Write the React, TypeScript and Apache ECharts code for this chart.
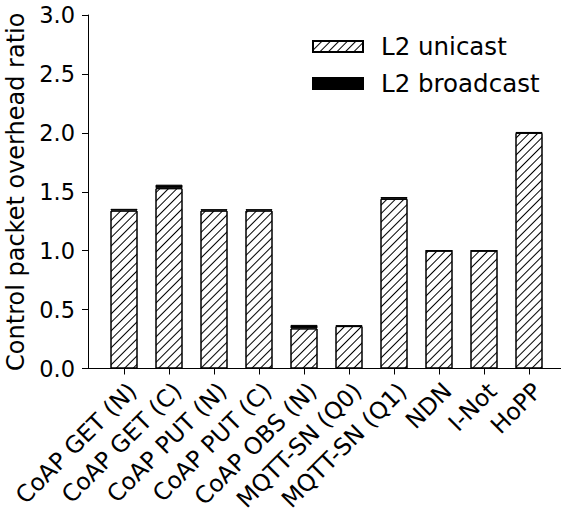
import React, { useEffect, useRef } from "react";
import * as echarts from "echarts";

const categories = [
  "CoAP GET (N)",
  "CoAP GET (C)",
  "CoAP PUT (N)",
  "CoAP PUT (C)",
  "CoAP OBS (N)",
  "MQTT-SN (Q0)",
  "MQTT-SN (Q1)",
  "NDN",
  "I-Not",
  "HoPP",
];
const unicast = [1.34, 1.53, 1.34, 1.34, 0.34, 0.36, 1.44, 1.0, 1.0, 2.0];
const broadcast = [0.015, 0.03, 0.012, 0.012, 0.03, 0.006, 0.015, 0, 0, 0.006];
const yTicks = { min: 0, max: 3, interval: 0.5 };
const yName = "Control packet overhead ratio";
const seriesNames = ["L2 unicast", "L2 broadcast"];

const FONT = "DejaVu Sans";

export default function App() {
  const ref = useRef<HTMLDivElement>(null);
  useEffect(() => {
    if (!ref.current) return;
    const chart = echarts.init(ref.current, undefined, { renderer: "svg" });
    const bottom = 516 - 368.5;
    chart.setOption({
      animation: false,
      backgroundColor: "#fff",
      textStyle: { fontFamily: FONT },
      grid: [
        { left: 88, top: 15, width: 500, bottom, containLabel: false, outerBoundsMode: "none" },
        { left: 101.5, top: 15, width: 450, bottom, containLabel: false, outerBoundsMode: "none" },
      ],
      legend: {
        orient: "vertical",
        left: 307,
        top: 29,
        itemWidth: 50,
        itemHeight: 11,
        itemGap: 12,
        icon: "rect",
        data: seriesNames,
        textStyle: { fontFamily: FONT, fontSize: 24.5, color: "#000", padding: [0, 0, 0, 13] },
      },
      xAxis: [
        {
          type: "value",
          gridIndex: 0,
          min: 0,
          max: 1,
          axisLine: { show: true, lineStyle: { color: "#000", width: 1 } },
          axisTick: { show: false },
          axisLabel: { show: false },
          splitLine: { show: false },
        },
        {
          type: "category",
          gridIndex: 1,
          data: categories,
          axisLine: { show: false },
          axisTick: { show: true, alignWithLabel: true, length: 6, lineStyle: { color: "#000" } },
          axisLabel: {
            interval: 0,
            rotate: 45,
            fontSize: 23.5,
            fontFamily: FONT,
            color: "#000",
            margin: 10,
            verticalAlign: "top",
          },
        },
      ],
      yAxis: [
        {
          type: "value",
          gridIndex: 0,
          min: yTicks.min,
          max: yTicks.max,
          interval: yTicks.interval,
          name: yName,
          nameLocation: "middle",
          nameGap: 45,
          nameTextStyle: { fontFamily: FONT, fontSize: 24, color: "#000" },
          axisLine: { show: true, lineStyle: { color: "#000", width: 1 } },
          axisTick: { show: true, length: 6, lineStyle: { color: "#000" } },
          axisLabel: {
            fontSize: 22.5,
            fontFamily: FONT,
            color: "#000",
            margin: 13,
            formatter: (v: number) => v.toFixed(1),
          },
          splitLine: { show: false },
        },
        {
          type: "value",
          gridIndex: 1,
          min: yTicks.min,
          max: yTicks.max,
          show: false,
          splitLine: { show: false },
        },
      ],
      series: [
        {
          name: seriesNames[0],
          type: "bar",
          xAxisIndex: 1,
          yAxisIndex: 1,
          stack: "total",
          barWidth: 27,
          data: unicast,
          itemStyle: {
            color: "#fff",
            borderColor: "#000",
            borderWidth: 1,
            decal: {
              symbol: "rect",
              symbolSize: 1,
              color: "#000",
              backgroundColor: "#fff",
              dashArrayX: [1, 0],
              dashArrayY: [1, 5],
              rotation: -Math.PI / 4,
            },
          },
        },
        {
          name: seriesNames[1],
          type: "bar",
          xAxisIndex: 1,
          yAxisIndex: 1,
          stack: "total",
          barWidth: 27,
          data: broadcast,
          itemStyle: { color: "#000", borderColor: "#000", borderWidth: 1 },
        },
      ],
    });
    return () => chart.dispose();
  }, []);
  return (
    <div
      ref={ref}
      style={{ position: "fixed", left: 0, top: 0, width: 561, height: 516, background: "#fff" }}
    />
  );
}
